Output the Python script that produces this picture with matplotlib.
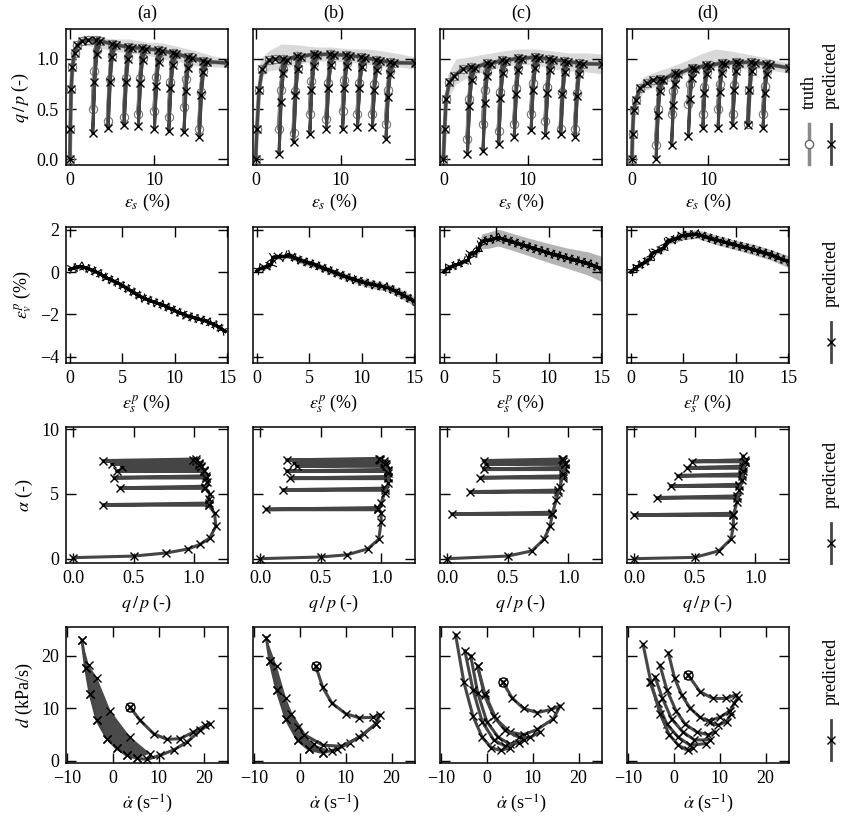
import numpy as np
import matplotlib.pyplot as plt
import matplotlib.patheffects as pe
from matplotlib.lines import Line2D

plt.rcParams['font.family'] = ['Liberation Serif', 'DejaVu Serif']
plt.rcParams['mathtext.fontset'] = 'stix'
plt.rcParams['font.size'] = 13

PRED = '#454545'
TRUTH = '#8a8a8a'

# ---------------- row 1: q/p vs eps_s (cyclic loading) ----------------
rise_eps = [[0, 0.05, 0.15, 0.3, 0.55, 0.9, 1.4, 2.2],
            [0, 0.15, 0.4, 0.78, 1.6, 2.3],
            [0, 0.15, 0.32, 0.72, 1.3, 2.3],
            [0, 0.08, 0.22, 0.52, 1.09, 1.96, 2.8]]
rise_qp = [[0, 0.3, 0.7, 0.92, 1.06, 1.14, 1.18, 1.19],
           [0, 0.3, 0.69, 0.9, 0.99, 1.0],
           [0, 0.3, 0.6, 0.77, 0.83, 0.9],
           [0, 0.25, 0.49, 0.59, 0.71, 0.76, 0.79]]
cyc_eps = [[2.7, 4.5, 6.4, 8.1, 10.0, 11.7, 13.5, 15.3],
           [2.75, 4.45, 6.35, 8.3, 10.2, 11.95, 13.7, 15.3],
           [2.85, 4.7, 6.55, 8.4, 10.4, 12.1, 13.9, 15.6],
           [3.17, 5.2, 7.4, 9.3, 11.3, 13.2, 15.2, 17.2]]
cyc_min = [[0.26, 0.31, 0.34, 0.33, 0.30, 0.28, 0.27, 0.22],
           [0.05, 0.17, 0.25, 0.30, 0.30, 0.32, 0.32, 0.20],
           [0.05, 0.08, 0.15, 0.22, 0.29, 0.24, 0.25, 0.22],
           [0.0, 0.14, 0.23, 0.31, 0.31, 0.34, 0.34, 0.31]]
cyc_min_truth = [[0.5, 0.38, 0.42, 0.45, 0.48, 0.42, 0.52, 0.3],
                 [0.3, 0.26, 0.45, 0.40, 0.48, 0.45, 0.45, 0.35],
                 [0.2, 0.35, 0.28, 0.35, 0.45, 0.38, 0.3, 0.3],
                 [0.14, 0.45, 0.55, 0.45, 0.5, 0.45, 0.35, 0.45]]
cyc_peak = [[1.19, 1.15, 1.12, 1.11, 1.09, 1.06, 1.02, 0.98],
            [1.0, 1.03, 1.05, 1.05, 1.04, 1.02, 0.99, 0.97],
            [0.92, 0.96, 0.99, 1.01, 1.02, 1.0, 0.98, 0.96],
            [0.80, 0.86, 0.91, 0.94, 0.96, 0.97, 0.97, 0.95]]
end_eps = [18.7, 18.7, 18.8, 20.6]
end_qp = [0.96, 0.96, 0.95, 0.91]
# loop shape: strain offset and fraction of the unload/reload vertices
loop_de = [0.45, 0.0, 0.2, 0.5, 0.9]
loop_frac = [1.0, 0.0, 0.55, 0.85, 0.99]

band1_eps = [[0.5, 1.5, 3, 5, 7, 9, 11, 13, 15, 17, 18.7],
             [0.5, 1.5, 3, 5, 7, 9, 11, 13, 15, 17, 18.7],
             [0.5, 1.5, 3, 5, 7, 9, 11, 13, 15, 17, 18.8],
             [0.5, 1.5, 3, 5, 7, 9, 11, 13, 15, 17, 20.6]]
band1_hi = [[1.1, 1.24, 1.23, 1.2, 1.2, 1.17, 1.16, 1.12, 1.08, 1.03, 1.0],
            [1.0, 1.08, 1.15, 1.14, 1.12, 1.12, 1.1, 1.1, 1.08, 1.05, 1.02],
            [0.85, 1.0, 1.02, 1.05, 1.08, 1.1, 1.1, 1.08, 1.06, 1.06, 1.05],
            [0.7, 0.82, 0.87, 0.92, 0.98, 1.05, 1.1, 1.08, 1.05, 1.02, 0.96]]
band1_lo = [[0.95, 1.14, 1.12, 1.08, 1.06, 1.04, 1.0, 0.97, 0.93, 0.92, 0.92],
            [0.8, 0.88, 0.9, 0.95, 0.98, 0.98, 0.97, 0.95, 0.92, 0.92, 0.9],
            [0.6, 0.75, 0.82, 0.88, 0.92, 0.95, 0.94, 0.9, 0.88, 0.87, 0.85],
            [0.5, 0.68, 0.72, 0.78, 0.85, 0.9, 0.92, 0.92, 0.9, 0.9, 0.86]]
xlim1 = [(-0.47, 18.7), (-0.31, 18.7), (-0.4, 18.8), (-0.65, 20.6)]

# ---------------- row 2: eps_v^p vs eps_s^p ----------------
eps2 = [[0, 0.5, 1.1, 1.8, 2.7, 3.6, 4.6, 5.7, 6.8, 7.9, 9.0, 10.1, 11.2, 12.1, 13.0, 14.0, 14.8],
        [0, 0.3, 0.9, 1.4, 1.55, 2.0, 2.65, 3.0, 4.06, 5.6, 7.3, 9.06, 10.8, 12.5, 13.6, 15.0],
        [0, 0.3, 1.0, 1.9, 2.3, 2.5, 3.0, 3.3, 3.6, 4.2, 5.2, 6.8, 8.4, 10.0, 11.8, 13.7, 15.0],
        [0, 0.63, 1.3, 1.9, 2.05, 2.6, 3.16, 3.5, 4.2, 4.9, 6.3, 7.9, 9.8, 11.7, 13.3, 15.0]]
vol2 = [[0.13, 0.2, 0.27, 0.15, -0.03, -0.3, -0.52, -0.85, -1.18, -1.4, -1.59, -1.85, -2.08, -2.2, -2.32, -2.55, -2.81],
        [0.05, 0.16, 0.25, 0.36, 0.7, 0.72, 0.74, 0.82, 0.57, 0.33, 0.0, -0.33, -0.57, -0.74, -1.0, -1.39],
        [0.0, 0.16, 0.3, 0.49, 0.55, 0.85, 0.9, 1.06, 1.45, 1.5, 1.63, 1.39, 1.14, 0.9, 0.65, 0.41, 0.15],
        [0.0, 0.25, 0.45, 0.65, 0.9, 1.0, 1.14, 1.47, 1.55, 1.72, 1.8, 1.55, 1.3, 1.06, 0.82, 0.49]]
spread2 = [[0.05] * 17,
           [0.08, 0.08, 0.1, 0.1, 0.12, 0.12, 0.12, 0.15, 0.15, 0.15, 0.15, 0.15, 0.18, 0.18, 0.2, 0.22],
           [0.05, 0.05, 0.08, 0.1, 0.1, 0.12, 0.15, 0.2, 0.35, 0.38, 0.4, 0.4, 0.42, 0.45, 0.48, 0.55, 0.6],
           [0.05, 0.08, 0.1, 0.1, 0.12, 0.12, 0.15, 0.15, 0.18, 0.2, 0.2, 0.22, 0.22, 0.25, 0.25, 0.28]]

# ---------------- row 3: alpha vs q/p ----------------
bb_qp = [[0.0, 0.5, 0.77, 0.95, 1.05, 1.13, 1.18, 1.17, 1.12, 1.12, 1.13, 1.09, 1.11, 1.1, 1.08, 1.04, 0.99],
         [0.0, 0.5, 0.72, 0.89, 0.98, 1.0, 1.0, 0.97, 1.0, 1.03, 1.06, 1.06, 1.03, 0.98],
         [0.0, 0.5, 0.7, 0.8, 0.85, 0.87, 0.9, 0.93, 0.96, 0.97, 0.95],
         [0.0, 0.5, 0.7, 0.8, 0.82, 0.82, 0.85, 0.87, 0.89, 0.9, 0.92, 0.9]]
bb_alpha = [[0.08, 0.2, 0.44, 0.75, 1.1, 1.6, 2.5, 3.5, 4.15, 4.6, 5.0, 5.45, 5.9, 6.25, 6.75, 7.2, 7.6],
            [0.0, 0.13, 0.3, 0.76, 1.5, 2.8, 3.56, 3.8, 4.3, 5.08, 5.85, 6.6, 7.3, 7.7],
            [0.0, 0.2, 0.6, 1.5, 2.5, 3.44, 4.5, 5.5, 6.5, 7.3, 7.7],
            [0.0, 0.1, 0.6, 1.5, 2.5, 3.35, 4.4, 5.3, 6.1, 6.8, 7.5, 7.9]]
cyc_alpha = [[4.15, 5.45, 6.25, 6.75, 7.05, 7.3, 7.55],
             [3.8, 5.3, 6.2, 6.75, 7.15, 7.4, 7.6],
             [3.44, 5.15, 6.25, 6.9, 7.3, 7.55],
             [3.36, 4.7, 5.6, 6.4, 7.0, 7.5]]
cyc_left = [[0.25, 0.39, 0.34, 0.36, 0.4, 0.32, 0.25],
            [0.05, 0.19, 0.25, 0.22, 0.3, 0.28, 0.22],
            [0.04, 0.19, 0.275, 0.3, 0.32, 0.3],
            [0.0, 0.19, 0.3, 0.36, 0.44, 0.48]]
cyc_right = [[1.12, 1.09, 1.1, 1.08, 1.06, 1.04, 1.02],
             [0.97, 1.03, 1.06, 1.06, 1.04, 1.02, 0.99],
             [0.87, 0.92, 0.96, 0.97, 0.97, 0.96],
             [0.82, 0.85, 0.87, 0.89, 0.9, 0.92]]

# ---------------- row 4: d vs alpha_dot ----------------
rate4 = [[[3.8, 6.0, 8.9, 11.8, 14.7, 17.6, 20.1, 21.2, 19.1, 16.2, 13.3, 10.4, 7.5, 5.3, 3.1, 0.9, -1.2, -3.4, -4.9, -5.9, -6.7]],
         [[3.5, 5.0, 7.0, 10.0, 13.0, 16.0, 17.5, 16.5, 14.0, 11.0, 8.0, 5.0, 2.0, -0.5, -3.0, -5.0, -6.5, -7.3],
          [-2.0, 1.0, 5.0, 9.0, 13.0, 16.5]],
         [[3.5, 5.5, 8.0, 11.0, 14.0, 16.0, 14.5, 11.0, 8.0, 5.0, 2.0, -0.5, -2.0],
          [-2.0, -0.5, 1.5, 4.0, 7.0, 9.5, 11.5],
          [-3.5, -2.0, 0.0, 2.5, 5.0, 8.0],
          [-4.8, -3.0, -1.0, 1.5, 4.0, 7.0],
          [-6.8, -5.0, -3.0, -1.0, 1.0, 3.0, 5.0]],
         [[3.1, 5.7, 8.5, 11.4, 13.6, 13.9, 13.2, 12.2, 10.0, 7.5],
          [-1.2, 0.2, 1.7, 3.5, 5.7, 7.8, 9.6, 11.5, 12.5],
          [-3.0, -1.5, 0.5, 2.5, 5.0, 7.5, 9.0],
          [-4.1, -2.5, -0.5, 2.0, 4.5, 7.8],
          [-5.2, -3.5, -1.5, 1.0, 3.5, 7.1],
          [-6.7, -5.0, -3.0, -1.0, 1.0, 3.0, 4.2]]]
diss4 = [[[10.2, 7.7, 5.2, 4.1, 4.25, 5.5, 6.75, 7.1, 5.8, 3.6, 2.1, 1.1, 0.3, 0.5, 1.1, 2.4, 4.25, 7.7, 12.7, 17.7, 23.0]],
         [[18.0, 14.0, 11.0, 9.0, 8.2, 8.3, 8.8, 7.0, 5.2, 3.5, 2.2, 1.6, 2.2, 4.0, 8.0, 13.5, 19.0, 23.5],
          [9.0, 5.0, 3.0, 2.8, 4.5, 7.0]],
         [[15.0, 12.0, 10.0, 9.2, 9.8, 10.5, 8.0, 6.0, 5.0, 5.5, 8.0, 13.0, 18.0],
          [18.0, 12.5, 8.5, 5.8, 4.5, 4.5, 5.5],
          [20.0, 13.0, 7.5, 4.5, 3.2, 4.0],
          [21.0, 13.5, 7.5, 4.0, 2.8, 3.5],
          [24.0, 15.0, 8.5, 4.5, 2.5, 2.0, 2.5]],
         [[16.4, 13.2, 11.9, 11.9, 12.6, 12.0, 11.0, 9.5, 8.3, 7.6],
          [20.6, 15.7, 12.6, 10.1, 8.3, 7.4, 6.8, 7.5, 9.0],
          [18.2, 13.5, 9.5, 7.0, 5.5, 5.0, 5.5],
          [16.0, 12.0, 8.0, 5.5, 4.0, 4.0],
          [15.0, 11.0, 7.0, 4.5, 3.0, 3.3],
          [22.2, 15.0, 9.0, 5.0, 3.0, 2.0, 2.4]]]
band4_rate = [[-6.7, -5.9, -4.9, -3.4, -1.2, 0.9, 3.1, 5.3, 8.2, 3.8, -0.5, -3.4, -5.2],
              [-7.3, -6.5, -5.0, -3.0, -0.5, 2.0, 5.0, 7.0, 3.0, -0.5, -3.0, -5.0],
              [], []]
band4_diss = [[23.0, 17.7, 12.7, 7.7, 4.25, 2.4, 1.1, 0.5, 1.4, 4.6, 9.6, 15.8, 18.3],
              [23.5, 19.0, 13.5, 8.0, 4.0, 2.2, 1.6, 1.8, 3.2, 6.5, 12.0, 18.0],
              [], []]
start4 = [(3.8, 10.2), (3.5, 18.0), (3.5, 15.0), (3.1, 16.4)]

# ---------------- figure ----------------
fig = plt.figure(figsize=(8.45, 8.21), dpi=100)
lefts = [0.078, 0.2994, 0.5207, 0.742]
bottoms = [0.799, 0.558, 0.314, 0.0706]
w, h = 0.1917, 0.1657
axes = [[fig.add_axes([l, b, w, h]) for l in lefts] for b in bottoms]


def style(ax):
    ax.tick_params(direction='in', top=True, right=True, length=7, width=1, pad=5)
    for s in ax.spines.values():
        s.set_linewidth(1.1)


def cyclic(k, mins):
    e = list(rise_eps[k])
    q = list(rise_qp[k])
    for eb, qm, qp in zip(cyc_eps[k], mins, cyc_peak[k]):
        for de, fr in zip(loop_de, loop_frac):
            e.append(eb + de)
            q.append(qm + fr * (qp - qm))
    e.append(end_eps[k])
    q.append(end_qp[k])
    return e, q


for k in range(4):
    # row 1
    ax = axes[0][k]
    ax.fill_between(band1_eps[k], band1_lo[k], band1_hi[k], color='#d9d9d9', lw=0, zorder=1)
    et, qt = cyclic(k, cyc_min_truth[k])
    ax.plot(et, qt, color=TRUTH, lw=3, marker='o', ms=6, mfc='none', mec='#777777', mew=0.8, zorder=2)
    ep, qp = cyclic(k, cyc_min[k])
    ax.plot(ep, qp, color=PRED, lw=2.2, marker='x', ms=5.5, mec='black', mew=1.0, zorder=3)
    ax.set_xlim(*xlim1[k])
    ax.set_ylim(-0.06, 1.3)
    ax.set_xticks([0, 10])
    ax.set_yticks([0.0, 0.5, 1.0])
    ax.set_xlabel(r'$\varepsilon_s$ (%)', labelpad=2)
    ax.set_title('(' + 'abcd'[k] + ')', fontsize=13, pad=8)

    # row 2
    ax = axes[1][k]
    v = np.array(vol2[k])
    s = np.array(spread2[k])
    ax.fill_between(eps2[k], v - s, v + s, color='#b4b4b4', lw=0, zorder=1)
    ticks = [pe.withTickedStroke(angle=a, spacing=4.5, length=0.9, linewidth=0.8)
             for a in (45, -135, 135, -45)]
    ax.plot(eps2[k], vol2[k], color='black', lw=2.0, zorder=3,
            path_effects=ticks + [pe.Normal()])
    ax.set_xlim(-0.35, 15.05)
    ax.set_ylim(-4.3, 2.14)
    ax.set_xticks([0, 5, 10, 15])
    ax.set_yticks([-4, -2, 0, 2])
    ax.set_xlabel(r'$\varepsilon_s^p$ (%)')

    # row 3
    ax = axes[2][k]
    ax.plot(bb_qp[k], bb_alpha[k], color=PRED, lw=2.2, marker='x', ms=5.5, mec='black', mew=1.0, zorder=3)
    for a, ql, qr in zip(cyc_alpha[k], cyc_left[k], cyc_right[k]):
        ax.plot([qr, ql, qr], [a, a, a + 0.12], color=PRED, lw=2.6, marker='x', ms=5.5,
                mec='black', mew=1.0, zorder=2)
    ax.set_xlim(-0.06, 1.28)
    ax.set_ylim(-0.35, 10.15)
    ax.set_xticks([0.0, 0.5, 1.0])
    ax.set_yticks([0, 5, 10])
    ax.set_xlabel(r'$q\,/\,p$ (-)')

    # row 4
    ax = axes[3][k]
    if band4_rate[k]:
        ax.fill(band4_rate[k], band4_diss[k], color='#4a4a4a', lw=0, zorder=2)
        ax.plot(band4_rate[k], band4_diss[k], ls='none', marker='x', ms=5.5, mec='black', mew=1.0, zorder=4)
    for xs, ys in zip(rate4[k], diss4[k]):
        ax.plot(xs, ys, color=PRED, lw=2.2, marker='x', ms=5.5, mec='black', mew=1.0, zorder=3)
    ax.plot(*start4[k], marker='o', ms=6.5, mfc='none', mec='black', mew=1.0, zorder=5)
    ax.plot(*start4[k], marker='x', ms=4.5, mec='black', mew=1.0, zorder=5)
    ax.set_xlim(-10.2, 25.1)
    ax.set_ylim(-0.4, 25.5)
    ax.set_xticks([-10, 0, 10, 20])
    ax.set_yticks([0, 10, 20])
    ax.set_xlabel(r'$\dot{\alpha}$ (s$^{-1}$)')

for row in axes:
    for k, ax in enumerate(row):
        style(ax)
        if k > 0:
            ax.set_yticklabels([])

axes[0][0].set_ylabel(r'$q\,/\,p$ (-)')
axes[1][0].set_ylabel(r'$\varepsilon_v^p$ (%)')
axes[2][0].set_ylabel(r'$\alpha$ (-)')
axes[3][0].set_ylabel(r'$d$ (kPa/s)')

# legends at the right of each row (rotated labels with vertical handles)
W, H = 845.0, 821.0
row_tops = [29, 227, 428, 625]
for r, top in enumerate(row_tops):
    items = [('predicted', 831, PRED, 'x')]
    if r == 0:
        items = [('truth', 809, TRUTH, 'o')] + items
    for label, xp, col, mk in items:
        fig.text(xp / W, 1 - (top + 80) / H, label, rotation=90, ha='center', va='bottom', fontsize=13)
        fig.add_artist(Line2D([xp / W, xp / W], [1 - (top + 95) / H, 1 - (top + 135) / H],
                              color=col, lw=2.5 if mk == 'o' else 2.0))
        fig.add_artist(Line2D([xp / W], [1 - (top + 115) / H], marker=mk, ms=6,
                              mfc='white' if mk == 'o' else 'none', mec='#666666' if mk == 'o' else 'black',
                              mew=1.0, ls='none'))

fig.savefig('out.png', dpi=100)
